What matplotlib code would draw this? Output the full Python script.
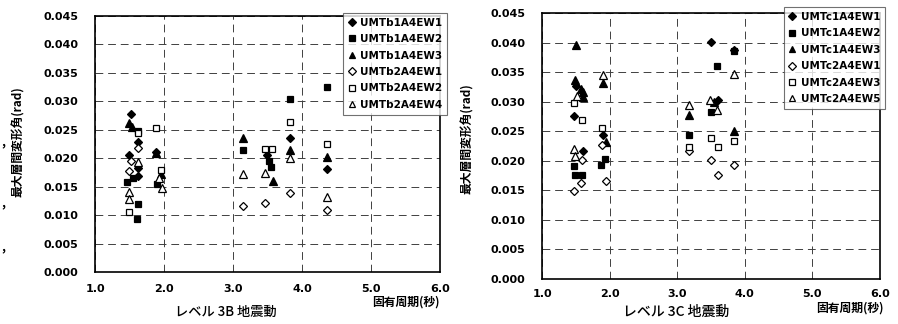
import matplotlib.pyplot as plt

# CJK font first, DejaVu as fallback
plt.rcParams['font.family'] = ['Noto Sans CJK JP', 'DejaVu Sans']
plt.rcParams['axes.unicode_minus'] = False

# ---- level 3B (left) ----
b1_ew1_x = [1.52, 1.63, 1.50, 1.63, 1.62, 1.89, 3.50, 3.83, 4.36]
b1_ew1_y = [0.0278, 0.0228, 0.0205, 0.0169, 0.0182, 0.0211, 0.0205, 0.0235, 0.0181]
b1_ew2_x = [1.62, 1.47, 1.55, 1.63, 1.61, 1.90, 3.15, 3.52, 3.55, 3.83, 4.36]
b1_ew2_y = [0.0248, 0.0158, 0.0165, 0.0119, 0.0093, 0.0155, 0.0214, 0.0195, 0.0185, 0.0305, 0.0326]
b1_ew3_x = [1.50, 1.53, 1.89, 1.95, 3.15, 3.58, 3.83, 4.36]
b1_ew3_y = [0.0262, 0.0255, 0.0209, 0.0172, 0.0235, 0.0160, 0.0214, 0.0203]
b2_ew1_x = [1.63, 1.52, 1.49, 3.15, 3.47, 3.83, 4.36]
b2_ew1_y = [0.0218, 0.0196, 0.0178, 0.0116, 0.0121, 0.0139, 0.0109]
b2_ew2_x = [1.49, 1.62, 1.88, 1.95, 3.47, 3.57, 3.83, 4.36]
b2_ew2_y = [0.0105, 0.0245, 0.0253, 0.0180, 0.0216, 0.0216, 0.0264, 0.0225]
b2_ew4_x = [1.62, 1.49, 1.50, 1.93, 1.97, 3.15, 3.47, 3.83, 4.36]
b2_ew4_y = [0.0193, 0.0140, 0.0128, 0.0165, 0.0148, 0.0172, 0.0174, 0.0200, 0.0132]
labels_3b = ['UMTb1A4EW1', 'UMTb1A4EW2', 'UMTb1A4EW3',
             'UMTb2A4EW1', 'UMTb2A4EW2', 'UMTb2A4EW4']

# ---- level 3C (right) ----
c1_ew1_x = [1.50, 1.48, 1.60, 1.90, 3.50, 3.60, 3.85]
c1_ew1_y = [0.0327, 0.0275, 0.0216, 0.0243, 0.0401, 0.0302, 0.0388]
c1_ew2_x = [1.49, 1.59, 1.48, 1.93, 1.88, 3.17, 3.50, 3.59, 3.85]
c1_ew2_y = [0.0176, 0.0176, 0.0191, 0.0203, 0.0192, 0.0243, 0.0282, 0.0360, 0.0385]
c1_ew3_x = [1.51, 1.49, 1.58, 1.61, 1.60, 1.91, 1.94, 3.17, 3.55, 3.85]
c1_ew3_y = [0.0395, 0.0337, 0.0322, 0.0316, 0.0307, 0.0331, 0.0231, 0.0278, 0.0300, 0.0250]
c2_ew1_x = [1.47, 1.58, 1.59, 1.89, 1.95, 3.18, 3.50, 3.60, 3.85]
c2_ew1_y = [0.0148, 0.0163, 0.0201, 0.0226, 0.0166, 0.0216, 0.0201, 0.0176, 0.0192]
c2_ew3_x = [1.48, 1.59, 1.89, 3.17, 3.50, 3.60, 3.85]
c2_ew3_y = [0.0297, 0.0269, 0.0256, 0.0223, 0.0238, 0.0223, 0.0234]
c2_ew5_x = [1.48, 1.49, 1.52, 1.91, 3.17, 3.49, 3.59, 3.85]
c2_ew5_y = [0.0220, 0.0208, 0.0310, 0.0345, 0.0295, 0.0302, 0.0285, 0.0346]
labels_3c = ['UMTc1A4EW1', 'UMTc1A4EW2', 'UMTc1A4EW3',
             'UMTc2A4EW1', 'UMTc2A4EW3', 'UMTc2A4EW5']

x_ticks = [1.0, 2.0, 3.0, 4.0, 5.0, 6.0]
y_ticks = [0.000, 0.005, 0.010, 0.015, 0.020, 0.025, 0.030, 0.035, 0.040, 0.045]

# marker, face, size
styles = [('D', 'black', 4.5), ('s', 'black', 4.5), ('^', 'black', 5.5),
          ('D', 'white', 4.5), ('s', 'white', 4.5), ('^', 'white', 5.5)]

fig = plt.figure(figsize=(8.98, 3.24), dpi=100)
ax1 = fig.add_axes([0.1058, 0.1605, 0.384, 0.790])
ax2 = fig.add_axes([0.6036, 0.139, 0.376, 0.821])


def draw(ax, series, labels, legend_anchor, xpad):
    for (xs, ys), (m, fc, ms), lab in zip(series, styles, labels):
        ax.plot(xs, ys, linestyle='none', marker=m, markersize=ms,
                markerfacecolor=fc, markeredgecolor='black',
                markeredgewidth=0.9, label=lab)
    ax.set_xlim(1.0, 6.0)
    ax.set_ylim(0.0, 0.045)
    ax.set_xticks(x_ticks)
    ax.set_yticks(y_ticks)
    ax.set_xticklabels(['%.1f' % v for v in x_ticks], family='DejaVu Sans',
                       fontweight='bold', fontsize=8)
    ax.set_yticklabels(['%.3f' % v for v in y_ticks], family='DejaVu Sans',
                       fontweight='bold', fontsize=8)
    ax.tick_params(length=0, pad=12)
    ax.tick_params(axis='x', pad=xpad)
    ax.grid(True, color='0.25', linewidth=0.7, linestyle=(0, (8, 5)))
    ax.set_axisbelow(True)
    for sp in ax.spines.values():
        sp.set_linewidth(1.2)
        sp.set_color('black')
    leg = ax.legend(loc='upper right', bbox_to_anchor=legend_anchor,
                    bbox_transform=fig.transFigure, borderaxespad=0,
                    prop={'family': 'DejaVu Sans', 'weight': 'bold', 'size': 7.5},
                    frameon=True, fancybox=False, handlelength=0.8,
                    handletextpad=0.4, labelspacing=0.62, borderpad=0.45,
                    markerscale=0.85)
    leg.get_frame().set_edgecolor('0.3')
    leg.get_frame().set_linewidth(0.8)


draw(ax1, [(b1_ew1_x, b1_ew1_y), (b1_ew2_x, b1_ew2_y), (b1_ew3_x, b1_ew3_y),
           (b2_ew1_x, b2_ew1_y), (b2_ew2_x, b2_ew2_y), (b2_ew4_x, b2_ew4_y)],
     labels_3b, (0.4978, 0.960), 9)
draw(ax2, [(c1_ew1_x, c1_ew1_y), (c1_ew2_x, c1_ew2_y), (c1_ew3_x, c1_ew3_y),
           (c2_ew1_x, c2_ew1_y), (c2_ew3_x, c2_ew3_y), (c2_ew5_x, c2_ew5_y)],
     labels_3c, (0.9855, 0.978), 7)

# axis titles
fig.text(18 / 898, 1 - 142 / 324, '最大層間変形角(rad)', rotation=90,
         ha='center', va='center', fontsize=8.5, fontweight='bold')
fig.text(467 / 898, 1 - 139 / 324, '最大層間変形角(rad)', rotation=90,
         ha='center', va='center', fontsize=8.5, fontweight='bold')
fig.text(406 / 898, 1 - 302 / 324, '固有周期(秒)', ha='center', va='center',
         fontsize=8.5, fontweight='bold')
fig.text(850 / 898, 1 - 308 / 324, '固有周期(秒)', ha='center', va='center',
         fontsize=8.5, fontweight='bold')
fig.text(226 / 898, 1 - 312 / 324, 'レベル 3B 地震動', ha='center', va='center',
         fontsize=9.5, fontweight='medium')
fig.text(676 / 898, 1 - 312 / 324, 'レベル 3C 地震動', ha='center', va='center',
         fontsize=10, fontweight='medium')

# scan marks on the left edge
for yy in [142, 203, 247]:
    fig.text(3 / 898, 1 - yy / 324, ',', ha='center', va='center',
             fontsize=9, fontweight='bold')

fig.savefig('out.png', dpi=100)
